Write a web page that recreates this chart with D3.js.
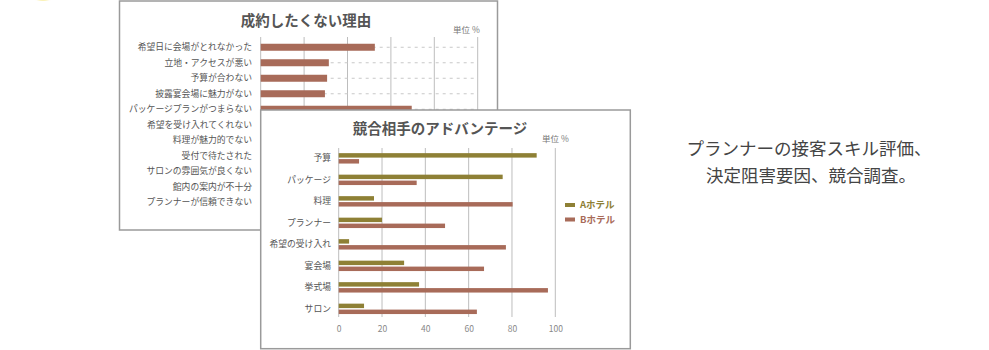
<!DOCTYPE html>
<html lang="ja">
<head>
<meta charset="utf-8">
<script src="https://cdn.jsdelivr.net/npm/d3@7/dist/d3.min.js"></script>
<style>
  html, body { margin: 0; padding: 0; background: #fff; }
  svg { display: block; font-family: "Noto Sans CJK JP", "Noto Sans", sans-serif; }
</style>
</head>
<body>
<svg id="chart" width="989" height="350"></svg>
<script>
// 成約したくない理由 (単位 %)
const reasonCategories = [
  "希望日に会場がとれなかった",
  "立地・アクセスが悪い",
  "予算が合わない",
  "披露宴会場に魅力がない",
  "パッケージプランがつまらない",
  "希望を受け入れてくれない",
  "料理が魅力的でない",
  "受付で待たされた",
  "サロンの雰囲気が良くない",
  "館内の案内が不十分",
  "プランナーが信頼できない"
];
const reasonValues = [26.3, 15.7, 15.3, 14.8, 34.8, null, null, null, null, null, null];
const reasonTicks = [0, 10, 20, 30, 40, 50];

// 競合相手のアドバンテージ (単位 %)
const rivalCategories = ["予算", "パッケージ", "料理", "プランナー", "希望の受け入れ", "宴会場", "挙式場", "サロン"];
const seriesNames = ["Aホテル", "Bホテル"];
const hotelA = [91.4, 75.7, 16.3, 20.0, 4.8, 30.2, 37.1, 11.7];
const hotelB = [9.4, 36.0, 80.3, 49.1, 77.2, 67.1, 96.6, 63.8];
const rivalTicks = [0, 20, 40, 60, 80, 100];

const colorA = "#8e8035";
const colorB = "#a86b59";
const frameColor = "#9a9a9a";
const gridColor = "#bdbdbd";
const labelColor = "#555";

const svg = d3.select("#chart");

// small warm highlight at the top edge
const defs = svg.append("defs");
defs.append("filter").attr("id", "glow")
  .append("feGaussianBlur").attr("stdDeviation", 1);
svg.append("ellipse")
  .attr("cx", 43).attr("cy", -2).attr("rx", 6).attr("ry", 2.5)
  .attr("fill", "#f5e36a").attr("filter", "url(#glow)");

// ---------- back panel ----------
const back = svg.append("g");
back.append("rect")
  .attr("x", 119.5).attr("y", 1).attr("width", 378).attr("height", 229)
  .attr("fill", "#fff").attr("stroke", frameColor).attr("stroke-width", 1.5);

back.append("text")
  .attr("x", 306).attr("y", 26)
  .attr("text-anchor", "middle")
  .attr("font-size", 14.5).attr("font-weight", "bold").attr("fill", "#555")
  .text("成約したくない理由");
back.append("text")
  .attr("x", 453).attr("y", 33)
  .attr("font-size", 8.5).attr("fill", "#777")
  .text("単位 %");

const xBack = d3.scaleLinear().domain([0, 50]).range([260.7, 477.7]);
const yBack = d3.scaleBand().domain(reasonCategories).range([39.5, 210]);

back.append("g").selectAll("line")
  .data(reasonTicks).join("line")
  .attr("x1", d => xBack(d)).attr("x2", d => xBack(d))
  .attr("y1", 37).attr("y2", 212)
  .attr("stroke", gridColor).attr("stroke-width", 1);

back.append("g").selectAll("line")
  .data(reasonCategories).join("line")
  .attr("x1", xBack(0)).attr("x2", xBack(50))
  .attr("y1", d => yBack(d) + yBack.bandwidth() / 2)
  .attr("y2", d => yBack(d) + yBack.bandwidth() / 2)
  .attr("stroke", "#c8c8c8").attr("stroke-width", 1)
  .attr("stroke-dasharray", "3,4");

back.append("g").selectAll("rect")
  .data(reasonCategories.map((c, i) => ({ c, v: reasonValues[i] })).filter(d => d.v != null))
  .join("rect")
  .attr("x", xBack(0))
  .attr("y", d => yBack(d.c) + yBack.bandwidth() / 2 - 3.5)
  .attr("width", d => xBack(d.v) - xBack(0))
  .attr("height", 7)
  .attr("fill", colorB);

back.append("g").selectAll("text")
  .data(reasonCategories).join("text")
  .attr("x", 252)
  .attr("y", d => yBack(d) + yBack.bandwidth() / 2)
  .attr("dy", "0.35em")
  .attr("text-anchor", "end")
  .attr("font-size", 8.8).attr("fill", labelColor)
  .text(d => d);

// ---------- front panel ----------
const front = svg.append("g");
front.append("rect")
  .attr("x", 260.7).attr("y", 110).attr("width", 369.6).attr("height", 238.7)
  .attr("fill", "#fff").attr("stroke", frameColor).attr("stroke-width", 1.5);

front.append("text")
  .attr("x", 440).attr("y", 134)
  .attr("text-anchor", "middle")
  .attr("font-size", 14.5).attr("font-weight", "bold").attr("fill", "#555")
  .text("競合相手のアドバンテージ");
front.append("text")
  .attr("x", 542).attr("y", 142)
  .attr("font-size", 8.5).attr("fill", "#777")
  .text("単位 %");

const xFront = d3.scaleLinear().domain([0, 100]).range([338.7, 555.3]);
const yFront = d3.scaleBand().domain(rivalCategories).range([147.6, 319.6]);
const ySeries = d3.scaleBand().domain(seriesNames).range([-5.2, 5.2]).paddingInner(0.25);

front.append("g").selectAll("line")
  .data(rivalTicks).join("line")
  .attr("x1", d => xFront(d)).attr("x2", d => xFront(d))
  .attr("y1", 148).attr("y2", 317)
  .attr("stroke", gridColor).attr("stroke-width", 1);

const xAxis = d3.axisBottom(xFront).tickValues(rivalTicks).tickSize(0).tickPadding(0);
front.append("g")
  .attr("transform", "translate(0,326)")
  .call(xAxis)
  .call(g => g.select(".domain").remove())
  .call(g => g.selectAll("text")
    .attr("font-size", 8.5).attr("fill", "#888")
    .attr("font-family", "\"Noto Sans CJK JP\", sans-serif"));

const rows = rivalCategories.map((c, i) => ({ c, a: hotelA[i], b: hotelB[i] }));
const group = front.append("g").selectAll("g")
  .data(rows).join("g")
  .attr("transform", d => `translate(0,${yFront(d.c) + yFront.bandwidth() / 2})`);

group.selectAll("rect")
  .data(d => [{ s: seriesNames[0], v: d.a }, { s: seriesNames[1], v: d.b }])
  .join("rect")
  .attr("x", xFront(0))
  .attr("y", d => ySeries(d.s))
  .attr("width", d => xFront(d.v) - xFront(0))
  .attr("height", ySeries.bandwidth())
  .attr("fill", d => d.s === seriesNames[0] ? colorA : colorB);

front.append("g").selectAll("text")
  .data(rivalCategories).join("text")
  .attr("x", 331)
  .attr("y", d => yFront(d) + yFront.bandwidth() / 2)
  .attr("dy", "0.35em")
  .attr("text-anchor", "end")
  .attr("font-size", 8.8).attr("fill", labelColor)
  .text(d => d);

// legend
const legend = front.append("g").selectAll("g")
  .data(seriesNames).join("g")
  .attr("transform", (d, i) => `translate(565,${205 + i * 14.5})`);
legend.append("rect")
  .attr("x", 0).attr("y", -2).attr("width", 10).attr("height", 4)
  .attr("fill", (d, i) => i === 0 ? colorA : colorB);
legend.append("text")
  .attr("x", 15).attr("dy", "0.35em")
  .attr("font-size", 9.5).attr("font-weight", "bold")
  .attr("fill", (d, i) => i === 0 ? colorA : colorB)
  .text(d => d);

// ---------- caption ----------
const caption = ["プランナーの接客スキル評価、", "決定阻害要因、競合調査。"];
svg.append("g").selectAll("text")
  .data(caption).join("text")
  .attr("x", (d, i) => i === 0 ? 809 : 811)
  .attr("y", (d, i) => 149 + i * 27)
  .attr("dy", "0.35em")
  .attr("text-anchor", "middle")
  .attr("font-size", 17.5).attr("fill", "#444")
  .text(d => d);
</script>
</body>
</html>
